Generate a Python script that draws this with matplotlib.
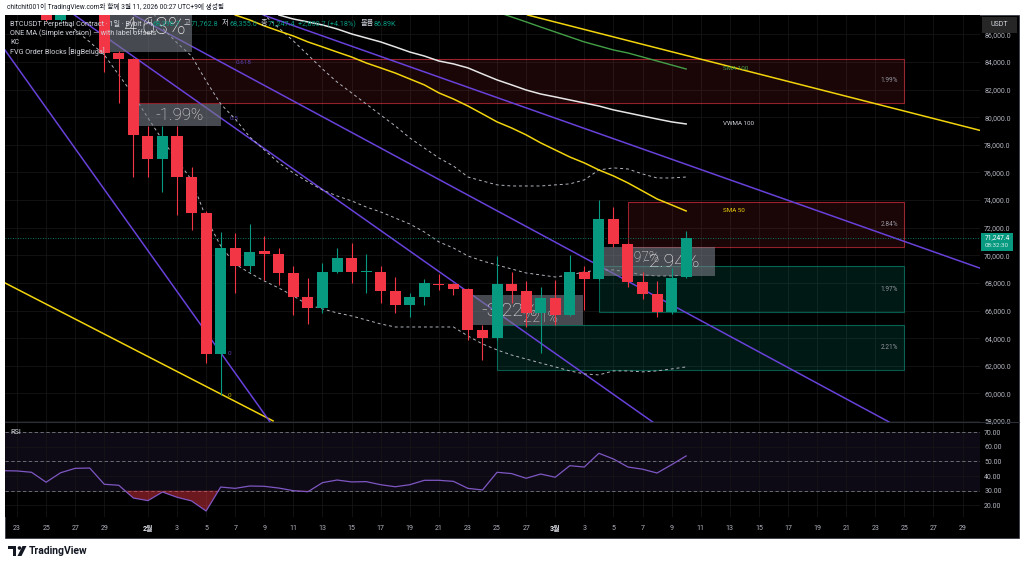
import numpy as np
import matplotlib
matplotlib.use("Agg")
import matplotlib.pyplot as plt
from matplotlib.patches import Rectangle, Polygon, Ellipse
from matplotlib.lines import Line2D

plt.rcParams['font.family'] = ['Roboto', 'Noto Sans CJK KR', 'DejaVu Sans']

# ---- daily candles, day 0 = 23 Jan 2026 ... day 46 = 10 Mar 2026
days = np.arange(47)
opens = np.array([89300, 89600, 89400, 87050, 88300, 89200, 88760, 84650, 84220, 78640,
                  76980, 78640, 75670, 73070, 62860, 70530, 69230, 70320, 70100, 68720,
                  66990, 66190, 68800, 69810, 68800, 68800, 67420, 66410, 66990, 67950,
                  67930, 67570, 64600, 64020, 67930, 67420, 65830, 66910, 65680, 68800,
                  68290, 72630, 70820, 68070, 67200, 65900, 68396.7])
highs = np.array([90000, 89900, 89600, 88600, 89500, 90500, 89000, 84800, 84300, 79370,
                  79370, 79370, 76400, 73200, 71690, 71620, 72270, 71400, 70530, 69230,
                  68360, 69450, 70530, 70900, 70100, 69230, 68430, 67280, 68290, 68650,
                  68000, 67600, 64960, 69950, 68800, 68150, 67710, 68220, 70030, 69230,
                  74010, 73500, 70900, 68800, 68150, 69090, 71762.8])
lows = np.array([88700, 88900, 86950, 86950, 87700, 87900, 83280, 81030, 75670, 75670,
                 74590, 72920, 71840, 62210, 59890, 67280, 68800, 68220, 67860, 65680,
                 65030, 65830, 68720, 68000, 67280, 66550, 65830, 65540, 66410, 67490,
                 67130, 63870, 62430, 63900, 66550, 64810, 62930, 64960, 65600, 66050,
                 68200, 70610, 67710, 66840, 65540, 65760, 68355.0])
closes = np.array([89600, 89400, 87050, 88300, 89200, 88760, 84650, 84220, 78720, 76980,
                   78640, 75670, 73070, 62860, 70530, 69230, 70240, 70100, 68720, 66990,
                   66190, 68800, 69810, 68800, 68830, 67420, 66410, 66990, 68000, 67880,
                   67570, 64600, 64020, 67930, 67420, 65830, 66910, 65680, 68800, 68290,
                   72630, 70820, 68070, 67200, 65900, 68360, 71247.4])
last_price = 71247.4

# ---- Keltner channel (dashed)
kc_upper_days = np.arange(16, 47)
kc_upper = [88340, 87400, 86460, 85520, 84510, 83490, 82550, 81760, 80960, 80160,
            79370, 78500, 77770, 77050, 76470, 75670, 75380, 75100, 75020, 75020,
            75020, 75100, 75170, 75460, 76180, 76330, 76250, 75890, 75600, 75600, 75670]
kc_mid_days = np.arange(9, 47)
kc_mid = [88200, 86460, 85380, 84430, 82620, 80960, 79870, 78570, 77630, 76690,
          75960, 75310, 74730, 74300, 73940, 73500, 73140, 72700, 72270, 71690,
          70970, 70530, 69950, 69590, 69300, 69010, 68720, 68580, 68430, 68580,
          68790, 68940, 68940, 68790, 68580, 68510, 68510, 68580]
kc_lower_days = np.arange(3, 47)
kc_lower = [87190, 86320, 85450, 84510, 83060, 81610, 79950, 78350, 76900, 75460,
            72700, 70680, 69370, 68720, 68140, 67630, 67060, 66410, 66120, 65830,
            65610, 65320, 65030, 64810, 64810, 64810, 64810, 64810, 64160, 63580,
            63150, 62780, 62490, 62200, 61920, 61630, 61410, 61340, 61630, 61630,
            61560, 61630, 61770, 61920]

# ---- moving averages
sma50_days = np.arange(15, 47)
sma50 = [87400, 87040, 86610, 86240, 85880, 85450, 85090, 84720, 84360, 83930,
         83570, 83200, 82770, 82340, 81760, 81320, 80810, 80240, 79660, 79220,
         78720, 78140, 77630, 77120, 76690, 76180, 75750, 75240, 74660, 74080,
         73650, 73210]
vwma100_days = np.arange(18, 47)
vwma100 = [87400, 87110, 86900, 86680, 86390, 86030, 85740, 85450, 85090, 84720,
           84430, 84070, 83860, 83570, 83130, 82700, 82340, 81970, 81680, 81470,
           81250, 81030, 80810, 80530, 80310, 80090, 79870, 79660, 79510]
sma100_days = np.arange(33, 47)
sma100 = [87620, 87260, 86900, 86530, 86170, 85810, 85450, 85160, 84870, 84650,
          84360, 84070, 83780, 83490]

# ---- trend lines (day, price anchors)
yellow_top_days, yellow_top = [35.1, 66.3], [87400, 79020]
yellow_low_days, yellow_low = [-0.9, 17.6], [68040, 58010]
purple_lines = [
    ([-0.9, 17.6], [84970, 57630]),
    ([3.95, 43.7], [87400, 57930]),
    ([8.02, 59.95], [87400, 57930]),
    ([16.93, 66.2], [87400, 69070]),
]

# ---- FVG order blocks
fvg_start = [8.4, 42, 40, 33]
fvg_end = [61, 61, 61, 61]
fvg_low = [81030, 70600, 65900, 61700]
fvg_high = [84220, 73860, 69190, 64960]
fvg_text = ["1.99%", "2.84%", "1.97%", "2.21%"]
fvg_bull = [False, False, True, True]

# ---- RSI, day -1 .. 46
rsi_days = np.arange(-1, 47)
rsi = np.array([43.7, 43.5, 42.6, 35.8, 42.3, 45.3, 45.5, 34.4, 33.7, 25.0,
                23.2, 29.1, 25.5, 23.0, 16.1, 32.5, 31.6, 33.2, 33.0, 31.8,
                30.0, 29.3, 35.5, 37.3, 36.0, 36.2, 34.1, 32.7, 34.1, 37.1,
                37.1, 36.4, 31.6, 30.5, 42.6, 41.7, 38.5, 41.4, 39.2, 47.1,
                46.2, 55.6, 51.7, 46.2, 44.7, 42.1, 47.8, 53.8])

# ---- time axis
tick_days = [0, 2, 4, 6, 9] + list(range(11, 36, 2)) + [37] + list(range(39, 66, 2))
tick_labels = (['23', '25', '27', '29', '2월'] + [str(n) for n in range(3, 28, 2)]
               + ['3월'] + [str(n) for n in range(3, 30, 2)])

GREEN = '#089981'
RED = '#f23645'
PURPLE = '#6741d9'
YELLOW = '#f2d40c'
TXT = '#b2b5be'
GRID = '#151515'

W, H = 1024, 568
def fx(x):
    return x / W
def fy(y):
    return 1 - y / H

fig = plt.figure(figsize=(W / 100, H / 100), dpi=100, facecolor='white')
fig.add_artist(Rectangle((fx(5), fy(538)), 1014 / W, 523 / H, transform=fig.transFigure,
                         facecolor='black', edgecolor='#2a2e39', lw=0.5, zorder=-10))

ax = fig.add_axes([fx(5), fy(422), 975 / W, 407 / H])
ax2 = fig.add_axes([fx(5), fy(517), 975 / W, 95 / H], sharex=ax)
for a in (ax, ax2):
    a.set_facecolor('black')
    for s in a.spines.values():
        s.set_visible(False)
    a.yaxis.tick_right()
    a.grid(True, color=GRID, lw=0.6)
    a.set_axisbelow(True)

ax.set_xlim(-0.825, 66.2)
ax.set_ylim(57930, 87400)
ax.set_yticks(np.arange(58000, 87000, 2000))
ax.yaxis.set_major_formatter(lambda v, p: f"{v:,.1f}")
ax.tick_params(axis='y', length=0, pad=3, labelsize=5, labelcolor=TXT)
ax.tick_params(axis='x', length=0, labelbottom=False)
ax.set_xticks(tick_days)

# FVG boxes
for x0, x1, lo, hi, t, bull in zip(fvg_start, fvg_end, fvg_low, fvg_high, fvg_text, fvg_bull):
    c = GREEN if bull else RED
    ax.add_patch(Rectangle((x0, lo), x1 - x0, hi - lo, facecolor=c,
                           alpha=0.17 if bull else 0.11, lw=0, zorder=1))
    ax.add_patch(Rectangle((x0, lo), x1 - x0, hi - lo, facecolor='none',
                           edgecolor=c, alpha=0.6, lw=0.8, zorder=1.1))
    ax.text(x1 - 0.45, (lo + hi) / 2, t, ha='right', va='center', fontsize=4.7,
            color='#9598a1', zorder=1.2)

# trend lines
ax.plot(yellow_top_days, yellow_top, color=YELLOW, lw=1.1, zorder=3)
ax.plot(yellow_low_days, yellow_low, color=YELLOW, lw=1.1, zorder=3)
for xs, ys in purple_lines:
    ax.plot(xs, ys, color=PURPLE, lw=1.1, zorder=3)

# KC and MAs
for xs, ys in ((kc_upper_days, kc_upper), (kc_mid_days, kc_mid), (kc_lower_days, kc_lower)):
    ax.plot(xs, ys, color='#b2b5be', lw=0.7, ls=(0, (3, 3)), zorder=3.5)
ax.plot(sma50_days, sma50, color=YELLOW, lw=1.1, zorder=3.6)
ax.plot(vwma100_days, vwma100, color='#e6e6e6', lw=1.1, zorder=3.6)
ax.plot(sma100_days, sma100, color='#43a047', lw=1.0, zorder=3.6)
ax.text(48.5, sma100[-1], "SMA 100", color='#43a047', fontsize=4.5, va='center')
ax.text(48.5, vwma100[-1], "VWMA 100", color='#d1d4dc', fontsize=4.5, va='center')
ax.text(48.5, sma50[-1], "SMA 50", color=YELLOW, fontsize=4.5, va='center')

# fib labels
ax.text(15.0, 83930, "0.618", color='#5b3fb0', fontsize=4.6, va='center')
ax.text(14.65, 79870, "0.5", color='#5b3fb0', fontsize=4.6, va='center')
ax.text(14.5, 62860, "0", color='#5b3fb0', fontsize=4.6, va='center')
ax.text(14.5, 59820, "0", color='#b8a000', fontsize=4.6, va='center')

# change labels (grey boxes)
boxes = [(6.26, 12.04, 84720, 87770), (8.39, 14.03, 79370, 80960),
         (31.36, 38.93, 64960, 67130), (40.30, 48.0, 68500, 70600)]
for x0, x1, lo, hi in boxes:
    ax.add_patch(Rectangle((x0, lo), x1 - x0, hi - lo, facecolor='#787b86',
                           alpha=0.6, lw=0, zorder=5))
lab_kw = dict(ha='center', va='center', color='#e8e8e8', fontweight='light', zorder=5.5)
ax.text(9.49, 86500, "4.63%", fontsize=17, **lab_kw)
ax.text(11.21, 80150, "-1.99%", fontsize=12, **lab_kw)
ax.text(33.9, 66000, "-3.22%", fontsize=14, **lab_kw)
ax.text(35.97, 65470, "2.21%", fontsize=10, **lab_kw)
ax.text(44.98, 69520, "-2.94%", fontsize=14, **lab_kw)
ax.text(42.92, 69800, "1.97%", fontsize=10, **lab_kw)

# candles
up = closes >= opens
cols = np.where(up, GREEN, RED)
ax.vlines(days, lows, highs, colors=cols, lw=0.8, zorder=7)
ax.bar(days, np.maximum(np.abs(closes - opens), 60), bottom=np.minimum(opens, closes),
       width=0.76, color=cols, lw=0, zorder=7.5)
ax.axhline(last_price, color=GREEN, lw=0.6, ls=(0, (1, 2)), zorder=4)

# RSI pane
ax2.set_ylim(12, 77)
ax2.set_yticks([20, 30, 40, 50, 60, 70])
ax2.yaxis.set_major_formatter(lambda v, p: f"{v:.2f}")
ax2.tick_params(axis='y', length=0, pad=3, labelsize=5, labelcolor=TXT)
ax2.axhspan(30, 70, color='#7e57c2', alpha=0.11, lw=0, zorder=0.5)
for lv in (70, 50, 30):
    ax2.axhline(lv, color='#787b86', lw=0.6, ls=(0, (4, 3)), zorder=1)
ax2.fill_between(rsi_days, rsi, 30, where=rsi < 30, interpolate=True,
                 color=RED, alpha=0.45, lw=0, zorder=1.5)
ax2.plot(rsi_days, rsi, color='#7e57c2', lw=0.9, zorder=2)
ax2.set_xticks(tick_days)
ax2.set_xticklabels(tick_labels)
ax2.tick_params(axis='x', length=0, pad=6, labelsize=5, labelcolor=TXT)
for t in ax2.get_xticklabels():
    if t.get_text().endswith('월'):
        t.set_color('#e0e3eb')
        t.set_fontweight('bold')

fig.add_artist(Line2D([fx(5), fx(1019)], [fy(422), fy(422)], color='#2a2e39', lw=0.8))

# right-side boxes
fig.add_artist(Rectangle((fx(981), fy(251)), 32 / W, 18 / H, transform=fig.transFigure,
                         facecolor=GREEN, lw=0, zorder=20))
fig.text(fx(997), fy(237.5), "71,247.4", ha='center', va='center', fontsize=4.8,
         color='white', zorder=21)
fig.text(fx(997), fy(245.5), "08:32:30", ha='center', va='center', fontsize=4.5,
         color='#cfeee6', zorder=21)
fig.add_artist(Rectangle((fx(982), fy(33)), 35 / W, 16 / H, transform=fig.transFigure,
                         facecolor='#262626', lw=0, zorder=20))
fig.text(fx(999.5), fy(25), "USDT", ha='center', va='center', fontsize=5,
         color='#d1d4dc', zorder=21)

# header
fig.text(fx(7), fy(7), "chitchit001이 TradingView.com와 함께 3월 11, 2026 00:27 UTC+9에 생성됨",
         fontsize=4.8, color='#131722', va='center')

# legend, first row chained so the pieces follow each other
LEG_FS = 5.2
prev = fig.text(fx(10), fy(24), "BTCUSDT Perpetual Contract · 1일 · Bybit",
                color='#d1d4dc', fontsize=LEG_FS, va='center', zorder=22)
row = [("시", '#d1d4dc', 3), ("68,396.7", GREEN, 0.3), ("고", '#d1d4dc', 2.5),
       ("71,762.8", GREEN, 0.3), ("저", '#d1d4dc', 2.5), ("68,355.0", GREEN, 0.3),
       ("종", '#d1d4dc', 2.5), ("71,247.4", GREEN, 0.3), ("+2,850.7 (+4.18%)", GREEN, 2.5),
       ("볼륨", '#d1d4dc', 3), ("86.89K", GREEN, 0.3)]
for s, c, gap in row:
    prev = ax.annotate(s, xy=(1, 0.5), xycoords=prev, xytext=(gap, 0),
                       textcoords='offset points', ha='left', va='center', color=c,
                       fontsize=LEG_FS, annotation_clip=False, zorder=22)
leg = dict(fontsize=LEG_FS, va='center', zorder=22, color='#d1d4dc')
fig.text(fx(10), fy(33.3), "ONE MA (Simple version) — with label offsets", **leg)
fig.text(fx(10), fy(42.7), "KC", **leg)
fig.text(fx(10), fy(51.7), "FVG Order Blocks [BigBeluga]", **leg)
fig.text(fx(10), fy(432), "RSI", **leg)

# TradingView logo
logo = dict(transform=fig.transFigure, facecolor='#131722', lw=0)
fig.add_artist(Rectangle((fx(8), fy(549)), 8 / W, 3.5 / H, **logo))
fig.add_artist(Rectangle((fx(12.5), fy(556)), 3.5 / W, 10 / H, **logo))
fig.add_artist(Ellipse((fx(19.5), fy(548)), 3.6 / W, 3.6 / H, **logo))
fig.add_artist(Polygon([(fx(17.5), fy(556)), (fx(21.5), fy(556)), (fx(26.5), fy(546)),
                        (fx(22.5), fy(546))], closed=True, **logo))
fig.text(fx(29), fy(551), "TradingView", fontsize=7.5, fontweight='bold',
         color='#131722', va='center')

fig.savefig("out.png", dpi=100, facecolor='white')
